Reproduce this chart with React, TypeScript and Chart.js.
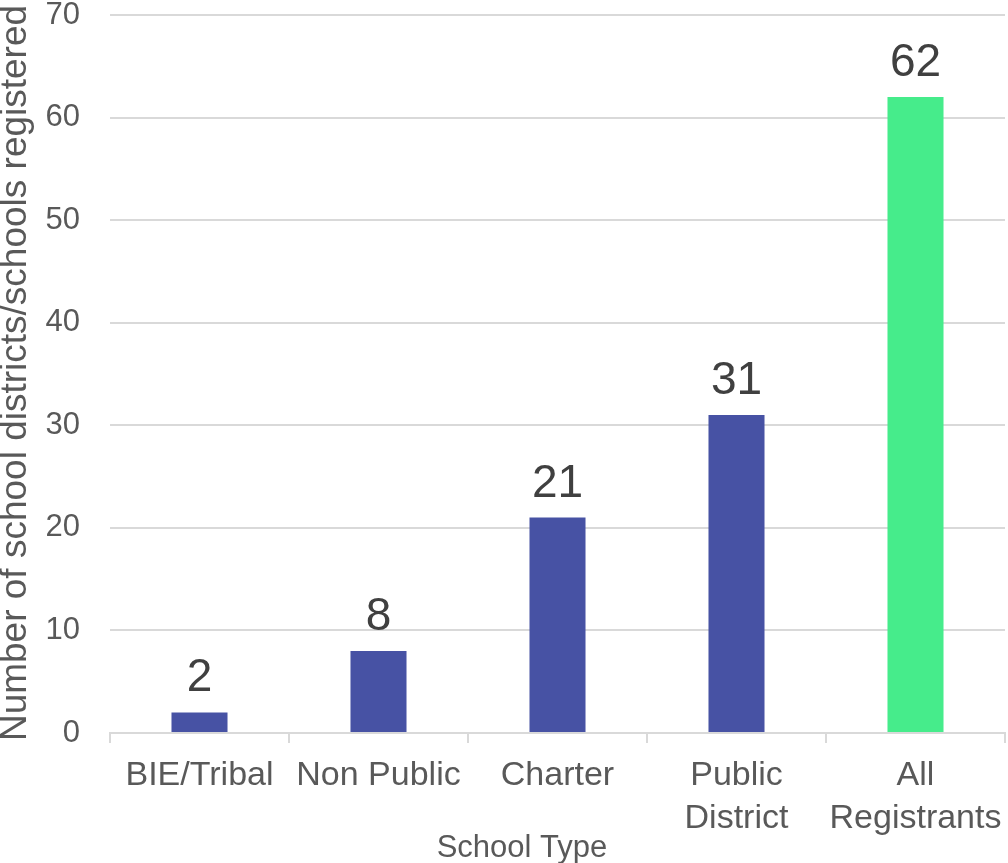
import React, { useEffect, useRef } from "react";
import { Chart, registerables } from "chart.js";

Chart.register(...registerables);

const categories: (string | string[])[] = [
  "BIE/Tribal",
  "Non Public",
  "Charter",
  ["Public", "District"],
  ["All", "Registrants"],
];
const values: number[] = [2, 8, 21, 31, 62];
const barColors: string[] = ["#4752A4", "#4752A4", "#4752A4", "#4752A4", "#46EC8B"];
const yTicks: number[] = [0, 10, 20, 30, 40, 50, 60, 70];
const xTitle = "School Type";
const yTitle = "Number of school districts/schools registered";

const FONT = "'Liberation Sans', Arial, sans-serif";

const annotatePlugin = {
  id: "annotate",
  afterDraw(chart: any) {
    const ctx = chart.ctx;
    const meta = chart.getDatasetMeta(0);
    ctx.save();
    ctx.fillStyle = "#404040";
    ctx.font = `46px ${FONT}`;
    ctx.textAlign = "center";
    ctx.textBaseline = "alphabetic";
    meta.data.forEach((bar: any, i: number) => {
      ctx.fillText(String(values[i]), bar.x, bar.y - 21);
    });
    ctx.fillStyle = "#595959";
    ctx.font = `31px ${FONT}`;
    ctx.textBaseline = "middle";
    ctx.fillText(xTitle, 522, 848);
    ctx.translate(16, 373);
    ctx.rotate(-Math.PI / 2);
    ctx.font = `37px ${FONT}`;
    ctx.fillText(yTitle, 0, 0);
    ctx.restore();
  },
};

export default function App() {
  const ref = useRef<HTMLCanvasElement>(null);
  useEffect(() => {
    if (!ref.current) return;
    const chart = new Chart(ref.current, {
      type: "bar",
      data: {
        labels: categories,
        datasets: [
          {
            data: values,
            backgroundColor: barColors,
            categoryPercentage: 1,
            barPercentage: 0.313,
          },
        ],
      },
      options: {
        responsive: false,
        animation: false,
        layout: { padding: { top: 15, right: 3, left: 0, bottom: 0 } },
        plugins: { legend: { display: false }, tooltip: { enabled: false } },
        scales: {
          x: {
            afterFit: (s: any) => {
              s.height = 130;
              s.paddingLeft = 0;
              s.paddingRight = 0;
            },
            grid: {
              drawOnChartArea: false,
              drawTicks: true,
              tickLength: 10,
              color: "#d9d9d9",
              lineWidth: 2,
            },
            border: { display: true, color: "#d9d9d9", width: 2 },
            ticks: {
              color: "#595959",
              font: { family: FONT, size: 34, lineHeight: 1.24 },
              padding: 12,
              maxRotation: 0,
              autoSkip: false,
            },
          },
          y: {
            min: 0,
            max: 70,
            afterFit: (s: any) => {
              s.width = 110;
              s.paddingTop = 0;
              s.paddingBottom = 0;
            },
            afterBuildTicks: (s: any) => {
              s.ticks = yTicks.map((v) => ({ value: v }));
            },
            grid: { drawTicks: false, color: "#d9d9d9", lineWidth: 2 },
            border: { display: false },
            ticks: {
              color: "#595959",
              font: { family: FONT, size: 31 },
              padding: 30,
            },
          },
        },
      },
      plugins: [annotatePlugin],
    } as any);
    return () => chart.destroy();
  }, []);
  return (
    <div style={{ position: "absolute", left: 0, top: 0, width: 1008, height: 863, background: "#fff" }}>
      <canvas ref={ref} width={1008} height={863} />
    </div>
  );
}
